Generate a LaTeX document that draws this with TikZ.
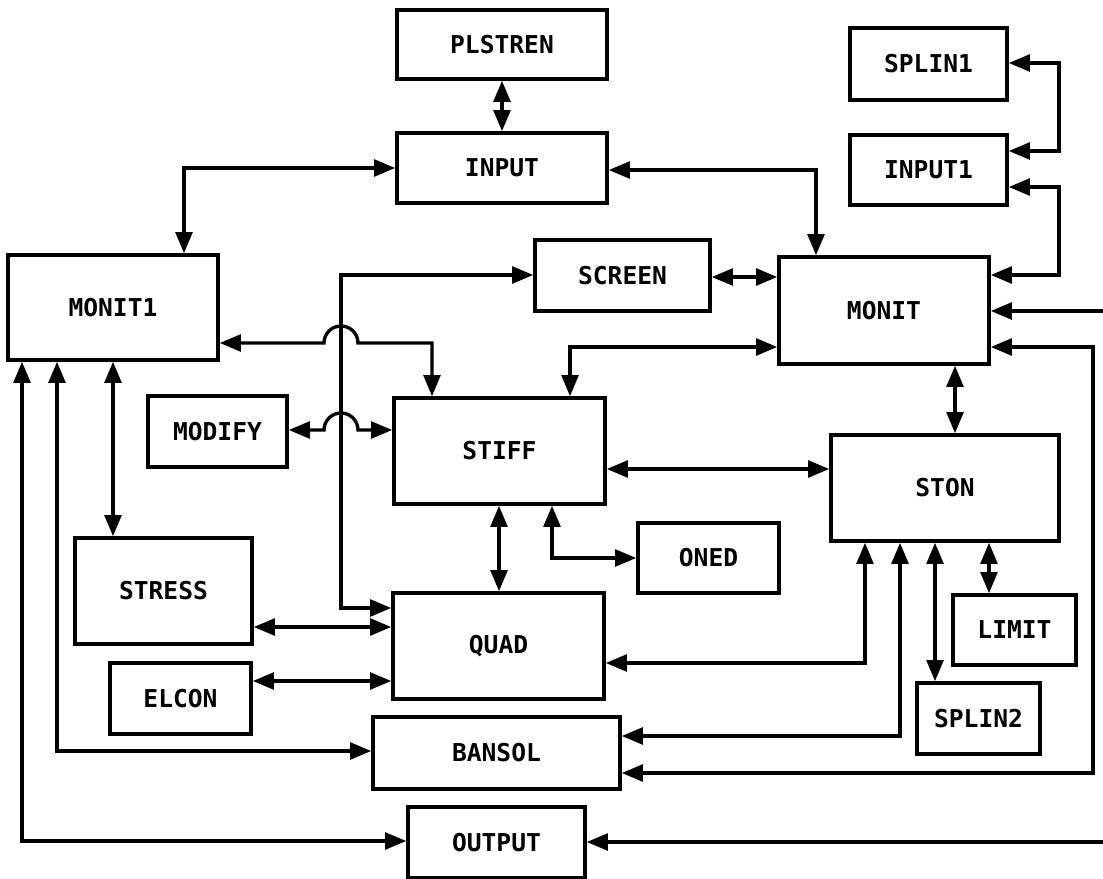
\documentclass[tikz,border=0pt]{standalone}
\usepackage{fontspec}
\usetikzlibrary{arrows.meta}
\newfontfamily\blkfont{DejaVu Sans Mono}

\begin{document}
\begin{tikzpicture}[x=0.02cm,y=-0.02cm,
    blk/.style={draw,line width=2pt,inner sep=0pt,
        font=\blkfont\bfseries\fontsize{14}{16}\selectfont},
    link/.style={line width=1.9pt,
        {Triangle[length=12pt,width=9.5pt]}-{Triangle[length=12pt,width=9.5pt]}},
    feed/.style={line width=1.9pt,-{Triangle[length=12pt,width=9.5pt]}}]
\useasboundingbox (0,0) rectangle (1103,879);

\node[blk,minimum width=4.20cm,minimum height=1.38cm] (plstren) at (502,44.5) {PLSTREN};
\node[blk,minimum width=4.20cm,minimum height=1.40cm] (input) at (502,168) {INPUT};
\node[blk,minimum width=3.14cm,minimum height=1.44cm] (splin1) at (928.5,64) {SPLIN1};
\node[blk,minimum width=3.14cm,minimum height=1.40cm] (input1) at (928.5,170) {INPUT1};
\node[blk,minimum width=3.50cm,minimum height=1.42cm] (screen) at (622.5,275.5) {SCREEN};
\node[blk,minimum width=4.20cm,minimum height=2.14cm] (monit) at (884,310.5) {MONIT};
\node[blk,minimum width=4.20cm,minimum height=2.10cm] (monit1) at (113,307.5) {MONIT1};
\node[blk,minimum width=2.78cm,minimum height=1.42cm] (modify) at (217.5,431.5) {MODIFY};
\node[blk,minimum width=4.22cm,minimum height=2.12cm] (stiff) at (499.5,451) {STIFF};
\node[blk,minimum width=4.56cm,minimum height=2.12cm] (ston) at (945,488) {STON};
\node[blk,minimum width=2.82cm,minimum height=1.40cm] (oned) at (708.5,558) {ONED};
\node[blk,minimum width=3.54cm,minimum height=2.12cm] (stress) at (163.5,591) {STRESS};
\node[blk,minimum width=4.22cm,minimum height=2.12cm] (quad) at (498.5,646) {QUAD};
\node[blk,minimum width=2.46cm,minimum height=1.40cm] (limit) at (1014.5,630) {LIMIT};
\node[blk,minimum width=2.82cm,minimum height=1.42cm] (elcon) at (180.5,698.5) {ELCON};
\node[blk,minimum width=2.46cm,minimum height=1.42cm] (splin2) at (978.5,718.5) {SPLIN2};
\node[blk,minimum width=4.94cm,minimum height=1.44cm] (bansol) at (496.5,753) {BANSOL};
\node[blk,minimum width=3.54cm,minimum height=1.42cm] (output) at (496.5,842.5) {OUTPUT};

\coordinate (monitin) at (1103,311);
\coordinate (outin) at (1103,842);

\draw[link] (plstren) -- (input);
\draw[link] (input.west |- 0,168) -| (monit1.north -| 184,0);
\draw[link] (input.east |- 0,170) -| (monit.north -| 816,0);
\draw[link] (splin1.east |- 0,63) -- (1059,63) |- (input1.east |- 0,151);
\draw[link] (input1.east |- 0,187) -- (1059,187) |- (monit.east |- 0,275);
\draw[feed] (monitin) -- (monit.east |- monitin);
\draw[link] (monit.east |- 0,347) -- (1093,347) |- (bansol.east |- 0,773);
\draw[link] (screen.east |- 0,277) -- (monit.west |- 0,277);
\draw[link] (screen.west |- 0,275) -| (341,608) -- (quad.west |- 0,608);
\draw[link] (monit1.east |- 0,343) -- (324,343) arc(180:360:17) -| (stiff.north -| 432,0);
\draw[link] (modify.east |- 0,430) -- (324,430) arc(180:360:17) -- (stiff.west |- 0,430);
\draw[link] (monit.west |- 0,347) -| (stiff.north -| 570,0);
\draw[link] (monit.south -| 955,0) -- (ston.north -| 955,0);
\draw[link] (stiff.east |- 0,469) -- (ston.west |- 0,469);
\draw[link] (stiff.south -| 499,0) -- (quad.north -| 499,0);
\draw[link] (stiff.south -| 552,0) |- (oned.west);
\draw[link] (monit1.south) -- (stress.north -| monit1.south);
\draw[link] (monit1.south -| 57,0) |- (bansol.west |- 0,751);
\draw[link] (monit1.south -| 22,0) |- (output.west |- 0,841);
\draw[link] (stress.east |- 0,627) -- (quad.west |- 0,627);
\draw[link] (elcon.east |- 0,681) -- (quad.west |- 0,681);
\draw[link] (ston.south -| 865,0) |- (quad.east |- 0,663);
\draw[link] (ston.south -| 900,0) |- (bansol.east |- 0,736);
\draw[link] (ston.south -| 935,0) -- (splin2.north -| 935,0);
\draw[link] (ston.south -| 989,0) -- (limit.north -| 989,0);
\draw[feed] (outin) -- (output.east |- outin);
\end{tikzpicture}
\end{document}
